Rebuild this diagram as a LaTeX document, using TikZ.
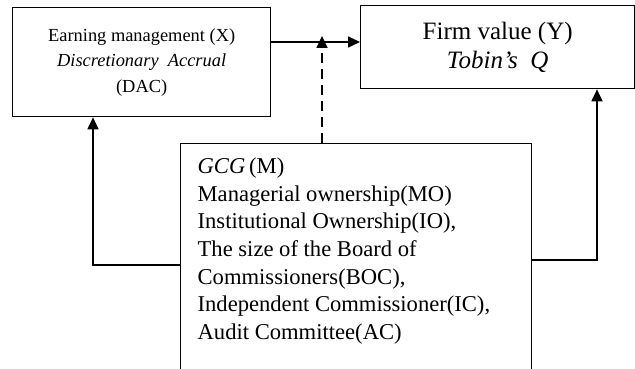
\documentclass[tikz,border=0pt]{standalone}
\usepackage{fontspec}
\setmainfont{Liberation Serif}
\usetikzlibrary{arrows.meta}
\begin{document}
\begin{tikzpicture}[x=1pt,y=-1pt,line width=1.3pt,
  box/.style={draw,rectangle,inner sep=0pt,anchor=north west},
  arr/.style={-{Triangle[length=12pt,width=11pt]},line width=1.7pt},
  dsh/.style={dash pattern=on 10pt off 6pt}]
\useasboundingbox (0,0) rectangle (635,369);
\node[box,minimum width=258pt,minimum height=109pt,align=center,
  font=\fontsize{18.4}{25.5}\selectfont] (X) at (12,7)
  {Earning management (X)\\ \textit{Discretionary\ \ Accrual}\\ (DAC)};
\node[box,minimum width=274pt,minimum height=83pt,align=center,
  font=\fontsize{25}{29}\selectfont] (Y) at (360,5)
  {Firm value (Y)\\ \textit{Tobin's\ \ Q}};
\node[box,minimum width=351pt,minimum height=240pt] (M) at (180,143) {};
\node[anchor=north west,inner sep=0pt,align=left,
  font=\fontsize{22.6}{27.7}\selectfont] (Mt) at (197,157)
  {\textit{GCG}\,(M)\\ Managerial ownership(MO)\\ Institutional Ownership(IO),\\
   The size of the Board of\\ Commissioners(BOC),\\
   Independent Commissioner(IC),\\ Audit Committee(AC)};
\coordinate (d) at (322,36);
\draw[arr] ([yshift=-35pt]X.north east) -- ([yshift=-37pt]Y.north west);
\draw[arr,dsh] (M.north -| d) -- (d);
\draw[arr] ([yshift=-122pt]M.north west) -| ([xshift=81pt]X.south west);
\draw[arr] ([yshift=-117pt]M.north east) -| ([xshift=237pt]Y.south west);
\end{tikzpicture}
\end{document}
